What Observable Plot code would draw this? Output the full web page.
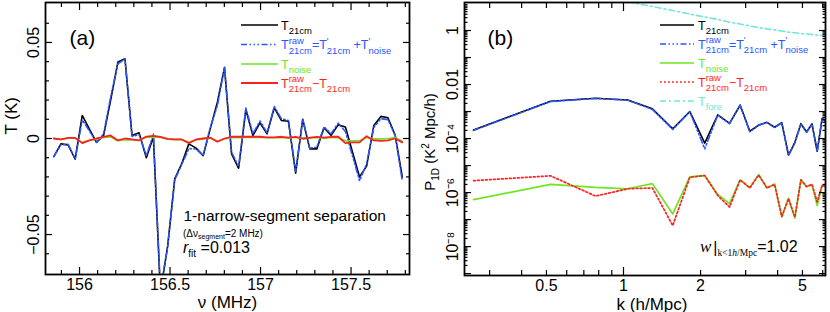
<!DOCTYPE html>
<html><head><meta charset="utf-8">
<script src="https://cdn.jsdelivr.net/npm/d3@7"></script>
<script src="https://cdn.jsdelivr.net/npm/@observablehq/plot@0.6"></script>
<style>
body{margin:0;background:#fff;}
#wrap{display:flex;width:830px;height:312px;overflow:hidden;}
#wrap svg{flex:none;}
</style></head><body><div id="wrap"></div>
<script>
// ---------- panel (a): brightness temperature vs frequency ----------
const nu = [155.858,155.897,155.937,155.976,156.015,156.054,156.094,156.133,156.172,156.212,
            156.251,156.290,156.329,156.369,156.408,156.447,156.487,156.526,156.565,156.604,
            156.644,156.683,156.722,156.762,156.801,156.840,156.879,156.919,156.958,156.997,
            157.036,157.076,157.115,157.154,157.194,157.233,157.272,157.311,157.351,157.390,
            157.429,157.469,157.508,157.547,157.586,157.626,157.665,157.704,157.744,157.783];
const t21 = [-0.0094,-0.0028,-0.0033,-0.0108,0.0120,0.0050,-0.0020,0.0016,0.0200,0.0398,
             0.0415,0.0016,0.0030,-0.0100,0.0008,-0.0800,-0.0560,-0.0210,-0.0130,-0.0028,
             -0.0050,-0.0089,0.0050,0.0190,0.0370,-0.0080,-0.0155,0.0150,0.0016,0.0082,
             0.0024,0.0160,0.0094,0.0090,-0.0180,0.0100,-0.0054,-0.0054,0.0056,0.0016,
             0.0071,0.0060,-0.0070,-0.0200,-0.0144,0.0068,0.0115,0.0108,0.0016,-0.0200];
const tRaw = [-0.0094,-0.0033,-0.0030,-0.0105,0.0096,0.0040,-0.0020,0.0024,0.0216,0.0388,
              0.0415,0.0011,0.0020,-0.0090,0.0022,-0.0791,-0.0562,-0.0215,-0.0135,-0.0052,
              -0.0055,-0.0089,0.0055,0.0173,0.0370,-0.0071,-0.0146,0.0159,0.0025,0.0091,
              0.0030,0.0166,0.0103,0.0094,-0.0171,0.0100,-0.0050,-0.0045,0.0060,0.0025,
              0.0080,0.0036,-0.0090,-0.0220,-0.0132,0.0058,0.0103,0.0098,0.0016,-0.0220];
const tDiff = [0.0000,-0.0005,0.0003,0.0003,-0.0024,-0.0010,0.0000,0.0008,0.0016,-0.0010,
               0.0000,-0.0005,-0.0010,0.0010,0.0014,0.0009,-0.0002,-0.0005,-0.0005,-0.0024,
               -0.0005,0.0000,0.0005,-0.0017,0.0000,0.0009,0.0009,0.0009,0.0009,0.0009,
               0.0006,0.0006,0.0009,0.0004,0.0009,0.0000,0.0004,0.0009,0.0004,0.0009,
               0.0009,-0.0024,-0.0020,-0.0020,0.0012,-0.0010,-0.0012,-0.0010,0.0000,-0.0020];
const tNoise = [0.0000,-0.0005,0.0002,0.0002,-0.0020,-0.0010,-0.0002,0.0005,0.0008,-0.0012,
                -0.0008,-0.0008,-0.0010,0.0006,0.0008,0.0006,-0.0004,-0.0006,-0.0006,-0.0020,
                -0.0008,-0.0002,0.0002,-0.0014,-0.0002,0.0004,0.0004,0.0005,0.0005,0.0005,
                0.0004,0.0004,0.0005,0.0002,0.0005,-0.0002,0.0002,0.0005,0.0002,0.0005,
                0.0004,-0.0012,-0.0012,-0.0012,0.0005,-0.0002,-0.0002,0.0000,0.0005,-0.0014];

// ---------- panel (b): 1D power spectra ----------
const kModes = [0.2595,0.519,0.778,1.038,1.297,1.557,1.816,2.076,2.335,2.595,2.854,3.114,
                3.373,3.633,3.892,4.152,4.411,4.671,4.930,5.190,5.449,5.709,5.968,6.228];
const p21 = [2.09e-4,2.40e-3,3.09e-3,2.69e-3,1.26e-3,2.29e-4,1.00e-3,6.76e-5,7.59e-4,3.63e-4,
             1.74e-3,1.86e-4,3.16e-4,3.98e-4,2.63e-4,3.89e-4,2.45e-5,7.24e-5,3.55e-4,1.74e-4,
             3.47e-4,3.39e-5,5.62e-4,3.98e-4];
const pRaw = [2.00e-4,2.35e-3,3.05e-3,2.65e-3,1.20e-3,2.19e-4,0.98e-3,4.17e-5,7.40e-4,3.55e-4,
              1.70e-3,1.80e-4,3.10e-4,3.90e-4,2.55e-4,3.80e-4,2.35e-5,7.00e-5,3.45e-4,1.70e-4,
              3.40e-4,3.20e-5,5.50e-4,3.90e-4];
const pNoise = [5.5e-7,2.0e-6,1.55e-6,1.38e-6,2.14e-6,1.62e-7,3.8e-6,4.27e-6,8.5e-7,3.9e-7,
                2.95e-6,1.55e-6,4.57e-6,1.48e-6,2.09e-6,1.26e-7,6.2e-7,1.12e-7,2.95e-6,1.66e-6,
                2.0e-6,3.3e-7,1.78e-6,1.58e-6];
const pDiff = [2.75e-6,4.17e-6,7.4e-7,1.38e-6,1.48e-6,6.0e-8,3.7e-6,4.27e-6,7.8e-7,2.9e-7,
               2.95e-6,1.48e-6,4.47e-6,1.48e-6,2.0e-6,1.29e-7,6.0e-7,1.23e-7,2.95e-6,1.66e-6,
               2.0e-6,4.5e-7,1.9e-6,1.58e-6];
const kFore = [1.038,1.297,1.557,1.816,2.076,2.335,2.595,2.854,3.114,3.373,3.633,3.892,
               4.152,4.411,4.671,4.930,5.190,5.449,5.709,5.968,6.228];
const pFore = [11.5,7.76,5.5,4.07,3.16,2.57,2.04,1.74,1.48,1.29,1.15,1.05,
               0.955,0.87,0.83,0.776,0.74,0.71,0.676,0.653,0.63];

// ---------- ticks ----------
const xTicksA = [156,156.5,157,157.5];
const xTickLabelsA = ["156","156.5","157","157.5"];
const xMinorA = [155.9,156.1,156.2,156.3,156.4,156.6,156.7,156.8,156.9,157.1,157.2,157.3,157.4,157.6,157.7,157.8];
const yTicksA = [-0.05,0,0.05];
const yTickLabelsA = ["\u22120.05","0","0.05"];
const yMinorA = [-0.06,-0.04,-0.03,-0.02,-0.01,0.01,0.02,0.03,0.04,0.06];
const xTicksB = [0.5,1,2,5];
const xTickLabelsB = ["0.5","1","2","5"];
const xMajorB = [1];
const xMinorB = [0.3,0.4,0.5,0.6,0.7,0.8,0.9,2,3,4,5,6];
const yTicksB = [1,0.01,1e-4,1e-6,1e-8];
const yTickLabelsB = ["1","0.01","10\u207B\u2074","10\u207B\u2076","10\u207B\u2078"];
const yMajorB = [1e-9,1e-8,1e-7,1e-6,1e-5,1e-4,1e-3,1e-2,1e-1,1];
const yMinorB = [];
for (const d of yMajorB) for (let m = 2; m <= 9; m++) yMinorB.push(m * d);

const FONT = '"Liberation Sans", Arial, Helvetica, sans-serif';
const SERIF = '"Liberation Serif", "Times New Roman", serif';
const BLUE = "#2a55ff", GREEN = "#6ee620", RED = "#ff1f1f", CYAN = "#70e6d6";
const DASH_RAW = "6,2.5,1.5,2.5,1.5,2.5,1.5,2.5";
const DOT = "1.8,2.2";
const DASH_FORE = "6,3,2,3";

const rowsA = nu.map((v, i) => ({nu: v, t21: t21[i], raw: tRaw[i], noise: tNoise[i], diff: tDiff[i]}));
const rowsB = kModes.map((v, i) => ({k: v, p21: p21[i], raw: pRaw[i], noise: pNoise[i], diff: pDiff[i]}));
const rowsF = kFore.map((v, i) => ({k: v, p: pFore[i]}));

function tickAxes(xMaj, xMin, yMaj, yMin, L) {
  const o = {fill: "none", label: null, stroke: "black", strokeWidth: 1.2};
  const out = [];
  for (const anchor of ["bottom", "top"]) {
    out.push(Plot.axisX({...o, anchor, ticks: xMaj, tickSize: -L[0]}));
    out.push(Plot.axisX({...o, anchor, ticks: xMin, tickSize: -L[1]}));
  }
  for (const anchor of ["left", "right"]) {
    out.push(Plot.axisY({...o, anchor, ticks: yMaj, tickSize: -L[2]}));
    out.push(Plot.axisY({...o, anchor, ticks: yMin, tickSize: -L[3]}));
  }
  return out;
}
const lookup = (ticks, labels) => d => labels[ticks.findIndex(t => Math.abs(t - d) <= 1e-9 * Math.abs(t) || t === d)];

const plotA = Plot.plot({
  width: 415, height: 312, marginLeft: 45, marginRight: 6, marginTop: 2, marginBottom: 38,
  style: {fontFamily: FONT, fontSize: "16px", color: "black", background: "white", overflow: "visible"},
  x: {domain: [155.812, 157.823]},
  y: {domain: [-0.0708, 0.0708]},
  marks: [
    Plot.line(rowsA, {x: "nu", y: "t21", stroke: "black", strokeWidth: 1.6, clip: true}),
    Plot.line(rowsA, {x: "nu", y: "raw", stroke: BLUE, strokeWidth: 1.6, strokeDasharray: DASH_RAW, clip: true}),
    Plot.line(rowsA, {x: "nu", y: "noise", stroke: GREEN, strokeWidth: 1.6, clip: true}),
    Plot.line(rowsA, {x: "nu", y: "diff", stroke: RED, strokeWidth: 1.8, clip: true}),
    ...tickAxes(xTicksA, xMinorA, yTicksA, yMinorA, [7, 4, 7, 4]),
    Plot.axisX({anchor: "bottom", ticks: xTicksA, tickSize: 0, tickPadding: 4, label: null, tickFormat: lookup(xTicksA, xTickLabelsA)}),
    Plot.axisY({anchor: "left", ticks: yTicksA, tickSize: 0, tickPadding: 7, tickRotate: -90, label: null, tickFormat: lookup(yTicksA, yTickLabelsA)}),
    Plot.frame({stroke: "black", strokeWidth: 1.8}),
    Plot.text(["\u03BD (MHz)"], {text: d => d, frameAnchor: "bottom", dy: 33, lineAnchor: "bottom", fontSize: 17}),
    Plot.text(["T (K)"], {text: d => d, frameAnchor: "left", dx: -34, dy: -4, rotate: -90, fontSize: 17}),
    Plot.text(["(a)"], {text: d => d, frameAnchor: "top-left", dx: 24, dy: 42, textAnchor: "start", lineAnchor: "bottom", fontSize: 21}),
    Plot.text(["1-narrow-segment separation"], {text: d => d, frameAnchor: "top-left", dx: 138, dy: 218, textAnchor: "start", lineAnchor: "bottom", fontSize: 15.5})
  ]
});

const plotB = Plot.plot({
  width: 415, height: 312, marginLeft: 49, marginRight: 5, marginTop: 2, marginBottom: 37,
  style: {fontFamily: FONT, fontSize: "16px", color: "black", background: "white", overflow: "visible"},
  x: {type: "log", domain: [0.2393, 6.152]},
  y: {type: "log", domain: [8.5e-10, 10.9]},
  marks: [
    Plot.line(rowsF, {x: "k", y: "p", stroke: CYAN, strokeWidth: 1.6, strokeDasharray: DASH_FORE, clip: true}),
    Plot.line(rowsB, {x: "k", y: "p21", stroke: "black", strokeWidth: 1.6, clip: true}),
    Plot.line(rowsB, {x: "k", y: "raw", stroke: BLUE, strokeWidth: 1.6, strokeDasharray: DASH_RAW, clip: true}),
    Plot.line(rowsB, {x: "k", y: "noise", stroke: GREEN, strokeWidth: 1.7, clip: true}),
    Plot.line(rowsB, {x: "k", y: "diff", stroke: RED, strokeWidth: 1.7, strokeDasharray: DOT, clip: true}),
    ...tickAxes(xMajorB, xMinorB, yMajorB, yMinorB, [8, 5, 7, 3.5]),
    Plot.axisX({anchor: "bottom", ticks: xTicksB, tickSize: 0, tickPadding: 4, label: null, tickFormat: lookup(xTicksB, xTickLabelsB)}),
    Plot.axisY({anchor: "left", ticks: yTicksB, tickSize: 0, tickPadding: 7, tickRotate: -90, label: null, tickFormat: lookup(yTicksB, yTickLabelsB)}),
    Plot.frame({stroke: "black", strokeWidth: 1.8}),
    Plot.text(["k (h/Mpc)"], {text: d => d, frameAnchor: "bottom", dx: 7, dy: 34, lineAnchor: "bottom", fontSize: 17}),
    Plot.text(["(b)"], {text: d => d, frameAnchor: "top-left", dx: 23, dy: 42, textAnchor: "start", lineAnchor: "bottom", fontSize: 21})
  ]
});

const wrap = document.getElementById("wrap");
wrap.appendChild(plotA);
wrap.appendChild(plotB);

// ---------- rich text helper: one <text> with flowing <tspan>s ----------
// approximate glyph advance widths (em) used only to stack a superscript over a subscript
const EM = {"r":0.333,"a":0.556,"w":0.722,"'":0.191," ":0.278,"i":0.222,"f":0.278,"t":0.278,"s":0.5,"c":0.5,"m":0.833,"n":0.556,"o":0.556,"e":0.556};
const emWidth = t => [...t].reduce((s, ch) => s + (EM[ch] ?? 0.556), 0);
function rich(svg, x, y, pieces, o = {}) {
  const {color = "black", size = 12.5, small = 9.5, subDy = 4.5, supDy = -5.5, family = FONT} = o;
  const text = d3.select(svg).append("text").attr("x", x).attr("y", y)
    .attr("text-anchor", "start")
    .attr("fill", color).attr("font-family", family).attr("font-size", size)
    .style("white-space", "pre");
  let cur = 0, pendingDx = 0;
  const add = (t, off, fs, italic, extraDx = 0) => {
    const s = text.append("tspan").attr("font-size", fs).attr("dy", off - cur).text(t);
    const dx = pendingDx + extraDx;
    if (dx) s.attr("dx", dx);
    pendingDx = 0;
    if (italic) s.attr("font-style", "italic");
    cur = off;
  };
  for (const p of pieces) {
    const [t, kind, t2, italic] = p;
    if (kind === "pb") {
      add(t, supDy, small, italic);
      const wSup = emWidth(t) * small, wSub = emWidth(t2) * small;
      add(t2, subDy, small, italic, -wSup);
      if (wSup > wSub) pendingDx = wSup - wSub;
    } else if (kind === "b") add(t, subDy, small, italic);
    else if (kind === "p") add(t, supDy, small, italic);
    else add(t, 0, size, italic);
  }
  return text;
}
function swatch(svg, x1, x2, y, color, dash, w = 1.7) {
  d3.select(svg).append("line").attr("x1", x1).attr("x2", x2).attr("y1", y).attr("y2", y)
    .attr("stroke", color).attr("stroke-width", w).attr("stroke-dasharray", dash || null);
}

const legRows = [
  {color: "black", dash: null, pieces: [["T","n"],["21cm","b"]]},
  {color: BLUE, dash: DASH_RAW, pieces: [["T","n"],["raw","pb","21cm"],["=T","n"],["'","pb","21cm"],[" +T","n"],["'","pb","noise"]]},
  {color: GREEN, dash: null, pieces: [["T","n"],["noise","b"]]},
  {color: RED, dash: null, pieces: [["T","n"],["raw","pb","21cm"],["\u2212T","n"],["21cm","b"]]},
  {color: CYAN, dash: DASH_FORE, pieces: [["T","n"],["fore","b"]]}
];
const rowYA = [25, 44.5, 64, 83];
legRows.slice(0, 4).forEach((r, i) => {
  swatch(plotA, 241, 278, rowYA[i], r.color, r.dash, i === 3 ? 1.9 : 1.7);
  rich(plotA, 281, rowYA[i] + 4.5, r.pieces, {color: r.color});
});
const OB = 415; // panel (b) svg starts at page x = 415
const rowYB = [25, 44, 63, 82, 101];
legRows.forEach((r, i) => {
  swatch(plotB, 660 - OB, 694 - OB, rowYB[i], r.color, i === 3 ? DOT : r.dash);
  rich(plotB, 698 - OB, rowYB[i] + 4.5, r.pieces, {color: r.color});
});

// annotations panel (a)
rich(plotA, 183, 237, [["(\u0394\u03BD","n"],["segment","b"],["=2 MHz)","n"]], {size: 10, small: 7, subDy: 2});
rich(plotA, 183, 253, [["r","n",null,true],["fit","b"],[" =0.013","n"]], {size: 16, small: 10, subDy: 4});
// annotation panel (b)
{
  const t = rich(plotB, 700 - OB, 252, [["w","n",null,true]], {size: 17, family: SERIF});
  t.append("tspan").attr("font-family", FONT).attr("font-size", 16).attr("dx", 2).attr("dy", 1).text("|");
  t.append("tspan").attr("font-size", 9.5).attr("dy", 3).text("k<1");
  t.append("tspan").attr("font-size", 9.5).attr("font-style", "italic").text("h");
  t.append("tspan").attr("font-size", 9.5).text("/Mpc");
  t.append("tspan").attr("font-family", FONT).attr("font-size", 16).attr("dy", -4).text("=1.02");
}
// y label panel (b)
{
  const t = d3.select(plotB).append("text").attr("transform", `translate(${435 - OB},142) rotate(-90)`)
    .attr("text-anchor", "middle").attr("font-family", FONT).attr("font-size", 15).attr("fill", "black");
  t.append("tspan").text("P");
  t.append("tspan").attr("font-size", 10).attr("dy", 4).text("1D");
  t.append("tspan").attr("dy", -4).text(" (K");
  t.append("tspan").attr("font-size", 10).attr("dy", -6).text("2");
  t.append("tspan").attr("dy", 6).text(" Mpc/h)");
}
</script></body></html>
